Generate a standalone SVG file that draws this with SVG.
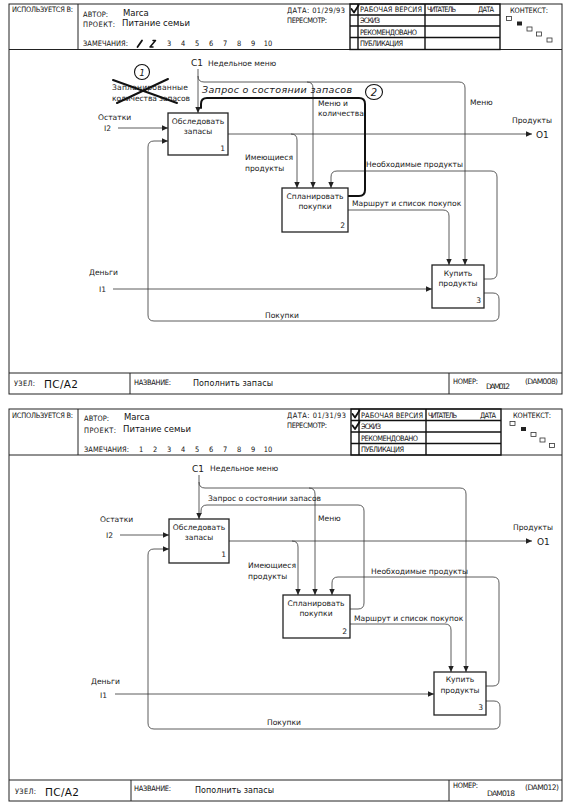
<svg xmlns="http://www.w3.org/2000/svg" width="570" height="810" viewBox="0 0 570 810">
<style>
.fr{fill:none;stroke:#222;stroke-width:1}
.tb{fill:none;stroke:#111;stroke-width:1.4}
.h{font-family:"DejaVu Sans Condensed","DejaVu Sans",sans-serif;font-size:7.4px;fill:#111}
.v{font-family:"DejaVu Sans",sans-serif;font-size:8.5px;fill:#111}
.l{font-family:"DejaVu Sans",sans-serif;font-size:7.6px;fill:#1a1a1a}
.n{font-family:"DejaVu Sans",sans-serif;font-size:7.6px;fill:#1a1a1a;text-anchor:middle}
.c{text-anchor:middle}
.e{text-anchor:end}
.box{fill:#fff;stroke:#222;stroke-width:1.3}
.ln{fill:none;stroke:#333;stroke-width:0.8}
.ar{marker-end:url(#ah)}
.hand{fill:none;stroke:#111;stroke-width:2;stroke-linecap:round}
.chk{fill:none;stroke:#111;stroke-width:1.8;stroke-linecap:round;stroke-linejoin:round}
.sq{fill:#fff;stroke:#333;stroke-width:0.8}
</style>
<defs>
<marker id="ah" viewBox="0 0 6 6" refX="6" refY="3" markerWidth="6" markerHeight="6" markerUnits="userSpaceOnUse" orient="auto"><path d="M0,0.3L6,3L0,5.7z" fill="#222"/></marker>
</defs>
<rect width="570" height="810" fill="#fff"/>

<!-- ================= TOP FORM ================= -->
<g id="top-frame">
<rect class="fr" x="9" y="4" width="553" height="390"/>
<line class="fr" x1="9" y1="49.5" x2="562" y2="49.5"/>
<line class="fr" x1="78" y1="4" x2="78" y2="49.5"/>
<line class="fr" x1="9" y1="373" x2="562" y2="373"/>
<line class="fr" x1="130" y1="373" x2="130" y2="394"/>
<line class="fr" x1="449" y1="373" x2="449" y2="394"/>
<rect class="tb" x="350" y="4" width="150" height="45.5"/>
<line class="tb" x1="358" y1="4" x2="358" y2="49.5"/>
<line class="tb" x1="425" y1="4" x2="425" y2="49.5"/>
<line class="tb" x1="350" y1="15" x2="500" y2="15"/>
<line class="tb" x1="350" y1="26" x2="500" y2="26"/>
<line class="tb" x1="350" y1="37.5" x2="500" y2="37.5"/>
<text class="h" x="12" y="12" textLength="61">ИСПОЛЬЗУЕТСЯ В:</text>
<text class="h" x="83" y="17" textLength="25">АВТОР:</text>
<text class="v" x="123" y="16">Marca</text>
<text class="h" x="83" y="27" textLength="32">ПРОЕКТ:</text>
<text class="v" x="122" y="26">Питание семьи</text>
<text class="h" x="83" y="46" textLength="45">ЗАМЕЧАНИЯ:</text>
<path class="chk" d="M137.5,47 L142,40.5"/>
<path class="chk" d="M150,47 L155.5,40.5 M150,47 L153,47 M153,40.5 L155.5,40.5" style="stroke-width:1.5"/>
<text class="h c" x="169" y="46">3</text>
<text class="h c" x="183" y="46">4</text>
<text class="h c" x="197" y="46">5</text>
<text class="h c" x="211" y="46">6</text>
<text class="h c" x="225" y="46">7</text>
<text class="h c" x="239" y="46">8</text>
<text class="h c" x="253" y="46">9</text>
<text class="h c" x="268" y="46">10</text>
<text class="h" x="287" y="13" textLength="58">ДАТА: 01/29/93</text>
<text class="h" x="287" y="23" textLength="40">ПЕРЕСМОТР:</text>
<path class="chk" d="M351.5,9 L354,12.5 L358.5,5.5"/>
<text class="h" x="360" y="12" textLength="62">РАБОЧАЯ ВЕРСИЯ</text>
<text class="h" x="427" y="12" textLength="29">ЧИТАТЕЛЬ</text>
<text class="h" x="478" y="12" textLength="16">ДАТА</text>
<text class="h" x="360" y="23" textLength="20">ЭСКИЗ</text>
<text class="h" x="360" y="34.5" textLength="57">РЕКОМЕНДОВАНО</text>
<text class="h" x="360" y="46" textLength="43">ПУБЛИКАЦИЯ</text>
<text class="h" x="510" y="13" textLength="38">КОНТЕКСТ:</text>
<rect class="sq" x="506.5" y="16.5" width="5" height="4"/>
<rect x="517" y="21.5" width="5" height="4" fill="#222"/>
<rect class="sq" x="527" y="27" width="5" height="4"/>
<rect class="sq" x="536.5" y="32" width="5" height="4"/>
<rect class="sq" x="547" y="38" width="5" height="4"/>
<text class="h" x="14" y="386" textLength="21">УЗЕЛ:</text>
<text class="v" x="44" y="388" style="font-size:10.5px" textLength="34">ПС/А2</text>
<text class="h" x="134" y="385" textLength="37">НАЗВАНИЕ:</text>
<text class="v" x="193" y="386" style="font-size:8px" textLength="80">Пополнить запасы</text>
<text class="h" x="453" y="384" textLength="25">НОМЕР:</text>
<text class="l" x="486" y="389" textLength="24">DAM012</text>
<text class="l" x="525" y="384" textLength="33">(DAM008)</text>
</g>

<g id="top-connectors">
<path class="ln ar" d="M198,69 V113"/>
<path class="ln ar" d="M198,76 Q198,82 204,82 H459 Q465,82 465,88 V265"/>
<path class="ln ar" d="M307,82 Q313,82 313,88 V188"/>
<path class="ln ar" d="M118,128 H168"/>
<path class="ln ar" d="M484,293 H493 Q499,293 499,299 V315 Q499,321 493,321 H154 Q148,321 148,315 V147 Q148,141 154,141 H168"/>
<path class="ln ar" d="M484,279 H491 Q497,279 497,273 V177 Q497,171 491,171 H337 Q331,171 331,177 V188"/>
<path class="ln ar" d="M228,134 H532"/>
<path class="ln ar" d="M291,134 Q297,134 297,140 V188"/>
<path class="ln ar" d="M348,210 H443 Q449,210 449,216 V265"/>
<path class="ln ar" d="M113,289 H432"/>
<path class="hand" d="M348,196 H359 Q365,196 365,190 V104 Q365,98 359,98 H207 Q201,98 201,104 V108"/>
<text class="l" x="208" y="66">Недельное меню</text>
<text class="l" x="191" y="66" style="font-size:9px">C1</text>
<text class="l" x="98" y="120">Остатки</text>
<text class="l" x="104" y="131">I2</text>
<text class="l" x="512" y="123">Продукты</text>
<text class="l" x="536" y="138" style="font-size:9px">O1</text>
<text class="l" x="318" y="106">Меню и</text>
<text class="l" x="318" y="116">количества</text>
<text class="l" x="470" y="105">Меню</text>
<text class="l" x="245" y="160">Имеющиеся</text>
<text class="l" x="245" y="171">продукты</text>
<text class="l" x="366" y="167">Необходимые продукты</text>
<text class="l" x="352" y="206">Маршрут и список покупок</text>
<text class="l" x="89" y="275">Деньги</text>
<text class="l" x="99" y="292">I1</text>
<text class="l" x="265" y="318">Покупки</text>
</g>

<g id="top-annotations">
<text class="l" x="112" y="90" textLength="76">Запланированные</text>
<text class="l" x="112" y="101" textLength="78">количества запасов</text>
<path class="hand" d="M113,80 L177,103 M168,79 L117,103"/>
<circle cx="142" cy="72" r="7.5" fill="none" stroke="#111" stroke-width="1.1"/>
<text class="l c" x="142" y="76" style="font-style:italic;font-size:9px">1</text>
<text class="l" x="202" y="93" style="font-style:italic;font-size:9.5px" textLength="150">Запрос о состоянии запасов</text>
<ellipse cx="374" cy="92" rx="8.5" ry="7.5" fill="#fff" stroke="#111" stroke-width="1.1"/>
<text class="l c" x="374" y="96" style="font-style:italic;font-size:10px">2</text>
</g>

<g id="top-node-1">
<rect class="box" x="168" y="113" width="60" height="42"/>
<text class="n" x="198" y="124">Обследовать</text>
<text class="n" x="198" y="134">запасы</text>
<text class="l e" x="225" y="151">1</text>
</g>
<g id="top-node-2">
<rect class="box" x="282" y="188" width="66" height="44"/>
<text class="n" x="315" y="199">Спланировать</text>
<text class="n" x="315" y="209">покупки</text>
<text class="l e" x="345" y="228">2</text>
</g>
<g id="top-node-3">
<rect class="box" x="432" y="265" width="52" height="43"/>
<text class="n" x="458" y="276">Купить</text>
<text class="n" x="458" y="286">продукты</text>
<text class="l e" x="481" y="303">3</text>
</g>

<!-- ================= BOTTOM FORM ================= -->
<g id="bottom-frame">
<rect class="fr" x="9" y="409" width="553" height="392"/>
<line class="fr" x1="9" y1="455" x2="562" y2="455"/>
<line class="fr" x1="78" y1="409" x2="78" y2="455"/>
<line class="fr" x1="9" y1="780" x2="562" y2="780"/>
<line class="fr" x1="131" y1="780" x2="131" y2="801"/>
<line class="fr" x1="449" y1="780" x2="449" y2="801"/>
<rect class="tb" x="351" y="409" width="150" height="46"/>
<line class="tb" x1="359" y1="409" x2="359" y2="455"/>
<line class="tb" x1="426" y1="409" x2="426" y2="455"/>
<line class="tb" x1="351" y1="420.5" x2="501" y2="420.5"/>
<line class="tb" x1="351" y1="432" x2="501" y2="432"/>
<line class="tb" x1="351" y1="443.5" x2="501" y2="443.5"/>
<text class="h" x="12" y="418" textLength="61">ИСПОЛЬЗУЕТСЯ В:</text>
<text class="h" x="84" y="421" textLength="25">АВТОР:</text>
<text class="v" x="124" y="420">Marca</text>
<text class="h" x="84" y="433" textLength="32">ПРОЕКТ:</text>
<text class="v" x="123" y="432">Питание семьи</text>
<text class="h" x="84" y="452" textLength="45">ЗАМЕЧАНИЯ:</text>
<text class="h c" x="141" y="452">1</text>
<text class="h c" x="155" y="452">2</text>
<text class="h c" x="169" y="452">3</text>
<text class="h c" x="183" y="452">4</text>
<text class="h c" x="197" y="452">5</text>
<text class="h c" x="211" y="452">6</text>
<text class="h c" x="225" y="452">7</text>
<text class="h c" x="239" y="452">8</text>
<text class="h c" x="253" y="452">9</text>
<text class="h c" x="268" y="452">10</text>
<text class="h" x="287" y="418" textLength="59">ДАТА: 01/31/93</text>
<text class="h" x="287" y="428" textLength="40">ПЕРЕСМОТР:</text>
<path class="chk" d="M352.5,414 L355,417.5 L359.5,410.5"/>
<path class="chk" d="M352.5,425.5 L355,429 L359.5,422"/>
<text class="h" x="361" y="418" textLength="62">РАБОЧАЯ ВЕРСИЯ</text>
<text class="h" x="428" y="418" textLength="29">ЧИТАТЕЛЬ</text>
<text class="h" x="480" y="418" textLength="16">ДАТА</text>
<text class="h" x="361" y="429" textLength="20">ЭСКИЗ</text>
<text class="h" x="361" y="440.5" textLength="57">РЕКОМЕНДОВАНО</text>
<text class="h" x="361" y="452" textLength="43">ПУБЛИКАЦИЯ</text>
<text class="h" x="513" y="418" textLength="38">КОНТЕКСТ:</text>
<rect class="sq" x="510" y="421.5" width="5" height="4"/>
<rect x="521" y="427" width="5" height="4" fill="#222"/>
<rect class="sq" x="531" y="432.5" width="5" height="4"/>
<rect class="sq" x="540" y="438" width="5" height="4"/>
<rect class="sq" x="549.5" y="443.5" width="5" height="4"/>
<text class="h" x="15" y="794" textLength="21">УЗЕЛ:</text>
<text class="v" x="45" y="796" style="font-size:10.5px" textLength="34">ПС/А2</text>
<text class="h" x="134" y="791" textLength="37">НАЗВАНИЕ:</text>
<text class="v" x="195" y="793" style="font-size:8px" textLength="79">Пополнить запасы</text>
<text class="h" x="453" y="788" textLength="25">НОМЕР:</text>
<text class="l" x="487" y="796" textLength="28">DAM018</text>
<text class="l" x="525" y="790" textLength="34">(DAM012)</text>
</g>

<g id="bottom-connectors">
<path class="ln ar" d="M199,475 V519"/>
<path class="ln ar" d="M199,482 Q199,488 205,488 H460 Q466,488 466,494 V672"/>
<path class="ln ar" d="M309,488 Q315,488 315,494 V595"/>
<path class="ln ar" d="M120,535 H169"/>
<path class="ln ar" d="M486,701 H494 Q500,701 500,707 V723 Q500,729 494,729 H154 Q148,729 148,723 V555 Q148,549 154,549 H169"/>
<path class="ln ar" d="M486,686 H493 Q499,686 499,680 V583 Q499,577 493,577 H338 Q332,577 332,583 V595"/>
<path class="ln ar" d="M229,541 H532"/>
<path class="ln ar" d="M292,541 Q298,541 298,547 V595"/>
<path class="ln ar" d="M350,624 H445 Q451,624 451,630 V672"/>
<path class="ln ar" d="M115,694 H434"/>
<path class="ln" d="M350,609 H358 Q364,609 364,603 V511 Q364,505 358,505 H207 Q201,505 201,511 V514"/>
<text class="l" x="210" y="471">Недельное меню</text>
<text class="l" x="192" y="472" style="font-size:9px">C1</text>
<text class="l" x="208" y="501">Запрос о состоянии запасов</text>
<text class="l" x="100" y="522">Остатки</text>
<text class="l" x="106" y="538">I2</text>
<text class="l" x="513" y="530">Продукты</text>
<text class="l" x="537" y="545" style="font-size:9px">O1</text>
<text class="l" x="318" y="521">Меню</text>
<text class="l" x="248" y="568">Имеющиеся</text>
<text class="l" x="248" y="579">продукты</text>
<text class="l" x="371" y="574">Необходимые продукты</text>
<text class="l" x="354" y="621">Маршрут и список покупок</text>
<text class="l" x="91" y="684">Деньги</text>
<text class="l" x="100" y="698">I1</text>
<text class="l" x="267" y="725">Покупки</text>
</g>

<g id="bottom-node-1">
<rect class="box" x="169" y="519" width="60" height="44"/>
<text class="n" x="199" y="530">Обследовать</text>
<text class="n" x="199" y="540">запасы</text>
<text class="l e" x="226" y="557">1</text>
</g>
<g id="bottom-node-2">
<rect class="box" x="283" y="595" width="67" height="43"/>
<text class="n" x="316" y="606">Спланировать</text>
<text class="n" x="316" y="616">покупки</text>
<text class="l e" x="347" y="634">2</text>
</g>
<g id="bottom-node-3">
<rect class="box" x="434" y="672" width="52" height="43"/>
<text class="n" x="460" y="682">Купить</text>
<text class="n" x="460" y="693">продукты</text>
<text class="l e" x="483" y="710">3</text>
</g>
</svg>
